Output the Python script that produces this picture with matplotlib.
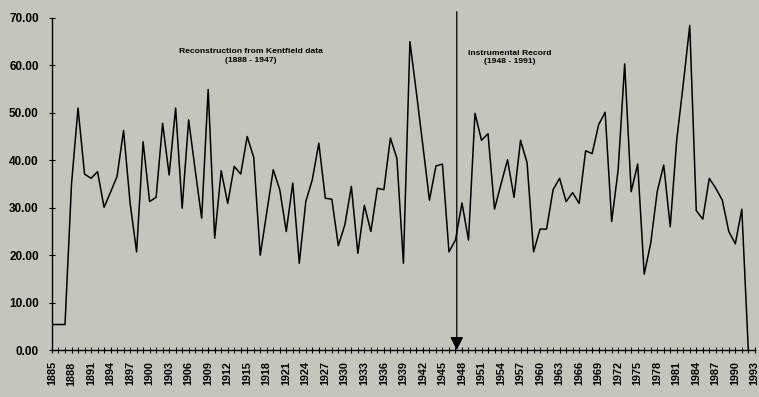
import matplotlib.pyplot as plt
import numpy as np

# Kentfield reconstruction + instrumental record, one value per year
years = list(range(1885, 1993))
values = [
    5.4, 5.4, 5.4, 35.0, 51.0, 37.1, 36.2, 37.6, 30.1, 33.3,   # 1885-1894
    36.6, 46.3, 31.0, 20.7, 43.9, 31.3, 32.2, 47.8, 36.9, 51.0,  # 1895-1904
    29.9, 48.5, 38.0, 27.8, 54.9, 23.6, 37.8, 30.9, 38.7, 37.1,  # 1905-1914
    45.0, 40.6, 20.0, 29.0, 38.0, 33.8, 25.0, 35.2, 18.3, 31.3,  # 1915-1924
    35.9, 43.6, 32.0, 31.8, 22.0, 26.4, 34.5, 20.4, 30.5, 25.0,  # 1925-1934
    34.1, 33.8, 44.7, 40.4, 18.3, 65.0, 54.2, 43.0, 31.6, 38.8,  # 1935-1944
    39.2, 20.7, 23.2, 31.0, 23.2, 49.9, 44.2, 45.6, 29.7, 35.0,  # 1945-1954
    40.1, 32.2, 44.2, 39.5, 20.7, 25.5, 25.5, 33.8, 36.2, 31.3,  # 1955-1964
    33.2, 30.9, 42.0, 41.4, 47.5, 50.1, 27.1, 38.0, 60.3, 33.4,  # 1965-1974
    39.2, 16.0, 22.5, 33.4, 39.0, 26.0, 44.3, 56.0, 68.4, 29.4,  # 1975-1984
    27.6, 36.2, 34.1, 31.6, 25.0, 22.4, 29.7, 0.0,               # 1985-1992
]

tick_years = list(range(1885, 1994))
label_years = list(range(1885, 1994, 3))
y_ticks = [0, 10, 20, 30, 40, 50, 60, 70]

split_year = 1947.2
recon_label = "Reconstruction from Kentfield data\n(1888 - 1947)"
instr_label = "Instrumental Record\n(1948 - 1991)"

bg = '#c4c6be'
plt.rcParams['font.family'] = ['Liberation Sans', 'DejaVu Sans']

fig = plt.figure(figsize=(7.59, 3.97), dpi=100, facecolor=bg)
ax = fig.add_axes([0.0685, 0.118, 0.926, 0.837])
ax.set_facecolor(bg)

ax.plot(years, values, color='black', lw=1.1)

ax.set_xlim(1885, 1993)
ax.set_ylim(0, 70)

ax.spines['top'].set_visible(False)
ax.spines['right'].set_visible(False)
ax.spines['left'].set_linewidth(1.0)
ax.spines['bottom'].set_linewidth(1.0)

ax.set_xticks(tick_years)
ax.set_xticklabels([str(y) if y in label_years else '' for y in tick_years],
                   rotation=90, fontsize=7.8, fontweight='bold')
ax.set_yticks(y_ticks)
ax.set_yticklabels([f'{v:.2f}' for v in y_ticks], fontsize=8.5, fontweight='bold')
ax.tick_params(axis='x', direction='inout', length=4, width=0.8, pad=6)
ax.tick_params(axis='y', direction='inout', length=5, width=0.8, pad=7)

# boundary between reconstruction and instrumental record
ax.annotate('', xy=(split_year, 0), xytext=(split_year, 71.3),
            arrowprops=dict(arrowstyle='-|>', color='black', lw=0.9,
                            mutation_scale=20, shrinkA=0, shrinkB=0),
            annotation_clip=False)

ax.text(1915.6, 62.0, recon_label, ha='center', va='center',
        fontsize=6.1, fontweight='bold', linespacing=1.3)
ax.text(1955.3, 61.6, instr_label, ha='center', va='center',
        fontsize=6.1, fontweight='bold', linespacing=1.3)

fig.savefig('out.png', dpi=100, facecolor=bg)
